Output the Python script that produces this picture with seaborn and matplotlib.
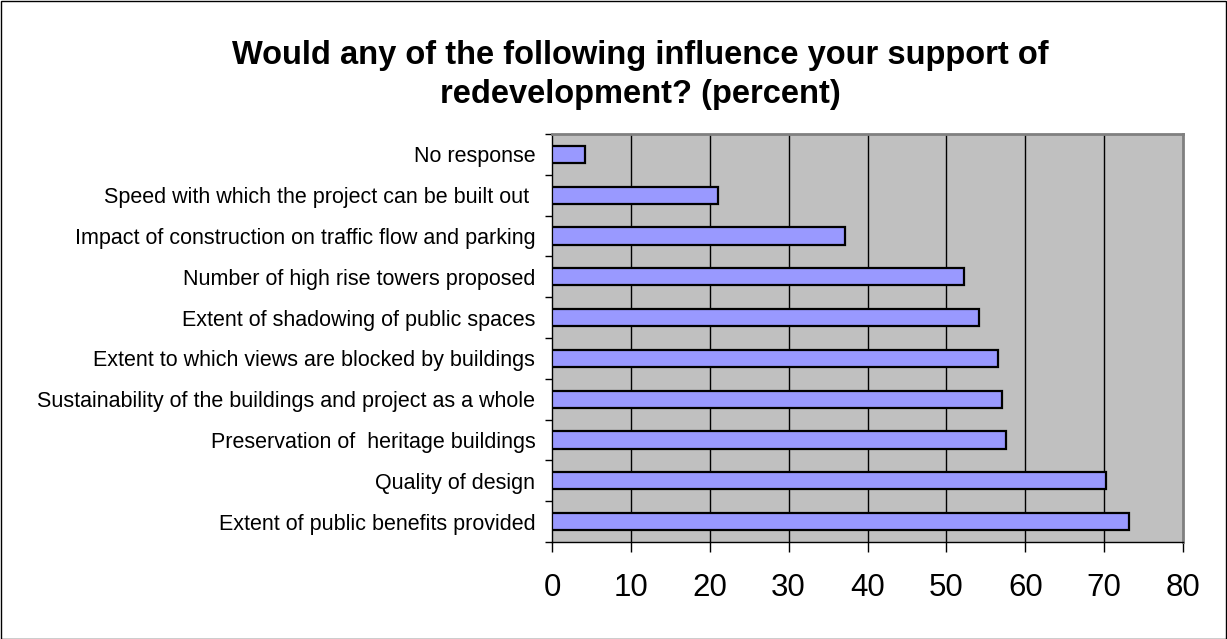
import numpy as np
import pandas as pd
import matplotlib
matplotlib.use("Agg")
import matplotlib.pyplot as plt
import seaborn as sns
from matplotlib.patches import Rectangle

categories = [
    "No response",
    "Speed with which the project can be built out ",
    "Impact of construction on traffic flow and parking",
    "Number of high rise towers proposed",
    "Extent of shadowing of public spaces",
    "Extent to which views are blocked by buildings",
    "Sustainability of the buildings and project as a whole",
    "Preservation of  heritage buildings",
    "Quality of design",
    "Extent of public benefits provided",
]
values = [4.2, 21.1, 37.1, 52.2, 54.1, 56.5, 57.1, 57.5, 70.2, 73.2]
x_ticks = [0, 10, 20, 30, 40, 50, 60, 70, 80]
title = "Would any of the following influence your support of\nredevelopment? (percent)"

df = pd.DataFrame({"category": categories, "value": values})

sns.set_theme(style="white")
plt.rcParams["font.family"] = ["Liberation Sans", "DejaVu Sans"]
plt.rcParams["text.color"] = "black"
plt.rcParams["xtick.color"] = "black"
plt.rcParams["ytick.color"] = "black"
plt.rcParams["xtick.labelcolor"] = "black"
plt.rcParams["ytick.labelcolor"] = "black"

W, H = 1227, 639
fig = plt.figure(figsize=(W / 100, H / 100), dpi=100)
fig.patch.set_facecolor("white")
left, right, top, bottom = 552, 1183, 134, 542
ax = fig.add_axes([left / W, 1 - bottom / H, (right - left) / W, (bottom - top) / H])

sns.barplot(data=df, x="value", y="category", orient="h", color="#9999FF",
            saturation=1, width=0.42, edgecolor="black", linewidth=1.6, ax=ax,
            zorder=3)

ax.set_facecolor("#C0C0C0")
ax.set_xlim(0, 80)
ax.set_ylim(9.5, -0.5)
ax.set_xticks(x_ticks)
ax.set_xticklabels([str(t) for t in x_ticks], fontsize=22.5, color="black")
for t in x_ticks[1:-1]:
    ax.axvline(t, color="black", lw=1, zorder=1)
ax.set_xlabel("")
ax.set_ylabel("")

ax.set_yticks(range(len(categories)))
ax.set_yticklabels(categories, fontsize=15.5, color="black")
ax.set_yticks(np.arange(-0.5, len(categories), 1), minor=True)
ax.tick_params(axis="y", which="major", length=0, pad=12)
ax.tick_params(axis="y", which="minor", length=5, width=1, color="black", direction="out", left=True)
ax.tick_params(axis="x", which="major", length=7, width=1, color="black", direction="out",
               bottom=True, pad=15)

for s in ["top", "right"]:
    ax.spines[s].set_color("#808080")
    ax.spines[s].set_linewidth(2)
for s in ["left", "bottom"]:
    ax.spines[s].set_color("black")
    ax.spines[s].set_linewidth(1)

fig.text(640 / W, 1 - 75 / H, title, ha="center", va="center", fontsize=23.5,
         fontweight="bold", linespacing=1.3, color="black")

fig.patches.append(Rectangle((0.5 / W, 0.5 / H), (W - 1.5) / W, (H - 1.5) / H,
                             transform=fig.transFigure, fill=False,
                             edgecolor="black", linewidth=1))

fig.savefig("out.png", dpi=100)
